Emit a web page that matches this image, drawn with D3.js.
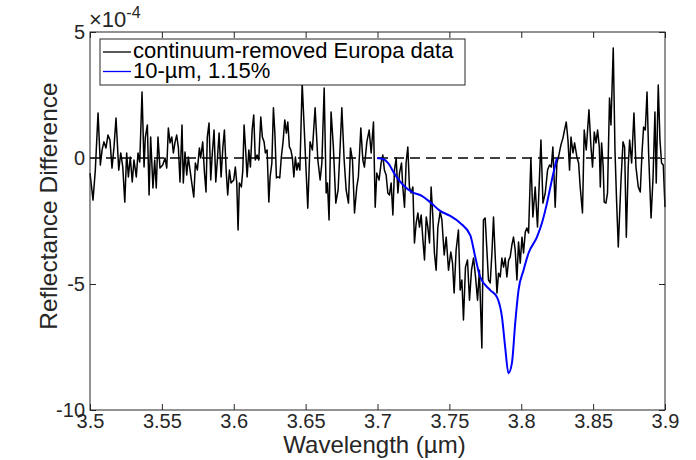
<!DOCTYPE html>
<html>
<head>
<meta charset="utf-8">
<script src="https://cdn.jsdelivr.net/npm/d3@7"></script>
<style>
  body { margin: 0; background: #fff; }
  svg { display: block; font-family: "Liberation Sans", Arial, Helvetica, sans-serif; }
</style>
</head>
<body>
<svg id="chart"></svg>
<script>
// Wavelength (um) of the continuum-removed Europa spectrum
const dataWavelength = [
  3.5000, 3.5021, 3.5037, 3.5056, 3.5072, 3.5084, 3.5097, 3.5111, 3.5125, 3.5139,
  3.5153, 3.5167, 3.5181, 3.5200, 3.5214, 3.5228, 3.5242, 3.5255, 3.5267, 3.5280,
  3.5294, 3.5306, 3.5322, 3.5334, 3.5346, 3.5362, 3.5376, 3.5385, 3.5399, 3.5411,
  3.5422, 3.5438, 3.5450, 3.5461, 3.5473, 3.5487, 3.5506, 3.5522, 3.5534, 3.5545,
  3.5557, 3.5569, 3.5580, 3.5592, 3.5603, 3.5615, 3.5626, 3.5640, 3.5649, 3.5661,
  3.5673, 3.5684, 3.5696, 3.5708, 3.5722, 3.5733, 3.5747, 3.5761, 3.5770, 3.5784,
  3.5796, 3.5807, 3.5816, 3.5828, 3.5840, 3.5851, 3.5863, 3.5875, 3.5886, 3.5898,
  3.5912, 3.5924, 3.5935, 3.5947, 3.5958, 3.5970, 3.5981, 3.6000, 3.6011, 3.6021,
  3.6030, 3.6039, 3.6053, 3.6063, 3.6072, 3.6084, 3.6093, 3.6105, 3.6116, 3.6128,
  3.6139, 3.6150, 3.6162, 3.6174, 3.6188, 3.6199, 3.6211, 3.6220, 3.6232, 3.6244,
  3.6253, 3.6265, 3.6276, 3.6286, 3.6297, 3.6308, 3.6320, 3.6331, 3.6343, 3.6355,
  3.6366, 3.6376, 3.6387, 3.6397, 3.6408, 3.6418, 3.6429, 3.6439, 3.6448, 3.6460,
  3.6476, 3.6515, 3.6531, 3.6547, 3.6566, 3.6585, 3.6601, 3.6613, 3.6629, 3.6643,
  3.6652, 3.6663, 3.6677, 3.6693, 3.6710, 3.6726, 3.6740, 3.6752, 3.6768, 3.6782,
  3.6798, 3.6812, 3.6826, 3.6840, 3.6856, 3.6867, 3.6884, 3.6898, 3.6909, 3.6926,
  3.6942, 3.6956, 3.6972, 3.6984, 3.6995, 3.7011, 3.7025, 3.7037, 3.7048, 3.7060,
  3.7072, 3.7083, 3.7095, 3.7107, 3.7118, 3.7130, 3.7142, 3.7153, 3.7167, 3.7176,
  3.7188, 3.7199, 3.7211, 3.7222, 3.7234, 3.7246, 3.7257, 3.7269, 3.7281, 3.7292,
  3.7304, 3.7316, 3.7327, 3.7339, 3.7350, 3.7362, 3.7373, 3.7385, 3.7396, 3.7408,
  3.7420, 3.7436, 3.7448, 3.7464, 3.7478, 3.7494, 3.7510, 3.7522, 3.7533, 3.7547,
  3.7563, 3.7575, 3.7587, 3.7598, 3.7612, 3.7626, 3.7640, 3.7654, 3.7668, 3.7682,
  3.7696, 3.7709, 3.7726, 3.7737, 3.7749, 3.7761, 3.7772, 3.7784, 3.7796, 3.7807,
  3.7819, 3.7831, 3.7842, 3.7854, 3.7865, 3.7877, 3.7888, 3.7900, 3.7912, 3.7923,
  3.7935, 3.7946, 3.7958, 3.7970, 3.7981, 3.7993, 3.8005, 3.8016, 3.8028, 3.8039,
  3.8051, 3.8067, 3.8081, 3.8097, 3.8113, 3.8137, 3.8151, 3.8167, 3.8183, 3.8197,
  3.8209, 3.8220, 3.8229, 3.8236, 3.8248, 3.8262, 3.8276, 3.8290, 3.8301, 3.8313,
  3.8325, 3.8336, 3.8346, 3.8360, 3.8371, 3.8387, 3.8399, 3.8410, 3.8426, 3.8438,
  3.8452, 3.8471, 3.8485, 3.8496, 3.8508, 3.8520, 3.8531, 3.8543, 3.8550, 3.8559,
  3.8570, 3.8577, 3.8589, 3.8600, 3.8614, 3.8624, 3.8640, 3.8652, 3.8663, 3.8675,
  3.8694, 3.8708, 3.8719, 3.8731, 3.8744, 3.8754, 3.8768, 3.8784, 3.8798, 3.8814,
  3.8828, 3.8840, 3.8851, 3.8863, 3.8875, 3.8886, 3.8903, 3.8917, 3.8930, 3.8939,
  3.8953, 3.8965, 3.8976, 3.8988, 3.9000
];

// Reflectance difference, in units of 1e-4
const dataReflectance = [
  -0.60, -1.67, -0.48, 1.79, -0.28, 0.32, 0.64, 0.40, 0.91, 0.71,
  -0.40, 0.44, 1.59, -0.48, 0.20, -0.36, -1.75, 0.20, -0.75, 0.04,
  -0.95, -0.08, -0.75, 0.20, -0.16, 2.62, -0.36, 0.83, 1.31, -1.47,
  0.83, -1.19, -0.08, -1.19, 0.83, -0.40, -0.28, 0.00, -0.40, 1.19,
  0.60, 0.83, 0.20, 0.64, 0.91, 0.40, -0.95, 1.31, -0.99, 0.24,
  -0.67, 0.04, -0.48, -0.99, -1.55, -0.20, -0.48, 0.40, 0.00, 0.64,
  -0.56, -1.35, 0.83, 1.39, -0.87, 0.20, 1.11, -0.95, -0.08, 0.99,
  -0.75, 0.40, 1.11, -0.48, -1.47, -0.48, -0.99, -0.87, -0.36, -0.99,
  -2.86, -0.99, -1.15, -0.48, 1.31, 0.20, -0.75, 0.32, -0.36, 1.11,
  1.71, -0.08, 0.12, -0.08, 1.63, 0.83, 0.64, 0.20, 0.32, -1.75,
  -0.75, -0.20, 1.99, 0.99, -0.79, -0.75, -0.79, 0.04, 0.64, 1.51,
  0.99, 1.43, 0.44, 0.32, 0.00, -0.75, 0.04, -0.48, -0.20, -0.48,
  2.98, -1.99, 0.64, 0.32, 1.99, -0.08, -0.87, -0.20, 2.78, -1.39,
  -0.99, -2.46, 1.83, 0.44, -1.79, -1.27, 0.44, 1.99, -0.08, -1.27,
  -1.79, 0.40, -0.08, -2.18, -1.15, -0.75, 1.19, -0.08, -0.36, 0.64,
  1.11, 0.20, 1.43, -1.95, -0.60, -0.87, -0.20, 0.12, -0.48, -0.67,
  -1.39, -1.47, -0.99, -2.26, -0.48, 0.00, -1.39, -0.60, -0.20, -1.15,
  -1.95, -0.20, 0.44, -1.15, -1.39, -1.15, -3.37, -2.58, -2.18, -2.74,
  -2.26, -3.26, -4.05, -2.34, -2.74, -3.37, -1.15, -2.34, -3.77, -4.45,
  -2.74, -2.14, -2.46, -3.85, -3.14, -4.45, -3.73, -4.17, -5.36, -3.65,
  -2.86, -5.24, -4.84, -6.43, -4.33, -4.05, -5.64, -4.45, -3.97, -4.72,
  -5.64, -4.45, -7.54, -2.46, -2.38, -3.65, -4.84, -4.96, -3.77, -2.34,
  -3.93, -5.36, -4.57, -4.72, -3.97, -4.33, -3.97, -4.72, -4.05, -3.93,
  -3.45, -3.14, -3.65, -4.84, -3.33, -4.17, -3.14, -3.77, -2.94, -2.78,
  -2.98, 0.00, -2.34, -1.15, -2.74, 0.71, -1.79, -1.39, -0.48, -0.28,
  -0.36, 0.44, -0.87, -1.95, -0.20, 0.12, 0.52, 0.79, 1.11, 1.43,
  0.71, -0.48, 0.83, 0.20, 0.60, 0.04, -0.20, -1.15, -2.18, 1.11,
  0.32, 1.91, 0.44, -0.36, 1.03, 0.60, 1.11, 0.44, -1.15, 0.60,
  -0.36, -1.75, -1.79, -1.39, 2.38, 1.31, 4.37, 0.32, -1.67, -3.53,
  -0.87, 0.64, 0.44, -3.14, -0.36, 0.71, -0.20, 1.79, -0.36, -1.15,
  -1.35, 0.20, 1.23, 1.11, 2.62, 0.20, -2.38, -0.75, 1.83, -0.99,
  2.90, 0.71, -0.20, -0.28, -1.95
];

// 10-um grain model, 1.15%
const modelWavelength = [
  3.6997, 3.7039, 3.7074, 3.7123, 3.7178, 3.7241, 3.7311, 3.7366, 3.7436, 3.7506,
  3.7575, 3.7645, 3.7680, 3.7714, 3.7784, 3.7831, 3.7866, 3.7888, 3.7911, 3.7935,
  3.7958, 3.7981, 3.8016, 3.8051, 3.8109, 3.8144, 3.8179, 3.8213, 3.8248
];
const modelReflectance = [
  0.00, -0.04, -0.20, -0.67, -1.07, -1.35, -1.51, -1.75, -2.10, -2.30,
  -2.58, -3.06, -3.93, -4.72, -5.24, -5.52, -6.31, -7.50, -8.54, -8.14,
  -6.55, -5.24, -4.45, -3.77, -3.14, -2.58, -1.79, -0.87, 0.00
];

const xTicks = [3.5, 3.55, 3.6, 3.65, 3.7, 3.75, 3.8, 3.85, 3.9];
const yTicks = [-10, -5, 0, 5];
const legendLabels = ["continuum-removed Europa data", "10-\u00b5m, 1.15%"];

const width = 696;
const height = 460;
const margin = { top: 32, right: 31, bottom: 50, left: 90 };
const innerWidth = width - margin.left - margin.right;
const innerHeight = height - margin.top - margin.bottom;
const axisColour = "#262626";

const svg = d3.select("#chart").attr("width", width).attr("height", height);

const g = svg.append("g")
  .attr("transform", `translate(${margin.left},${margin.top})`);

const x = d3.scaleLinear().domain([3.5, 3.9]).range([0, innerWidth]);
const y = d3.scaleLinear().domain([-10, 5]).range([innerHeight, 0]);

// Zero reference line
g.append("line")
  .attr("x1", x(3.5)).attr("x2", x(3.9))
  .attr("y1", y(0)).attr("y2", y(0))
  .attr("stroke", "#000")
  .attr("stroke-width", 1.3)
  .attr("stroke-dasharray", "10,6");

// Data line
const europa = dataWavelength.map((w, i) => [w, dataReflectance[i]]);
const model = modelWavelength.map((w, i) => [w, modelReflectance[i]]);

g.append("path")
  .datum(europa)
  .attr("fill", "none")
  .attr("stroke", "#000")
  .attr("stroke-width", 1.5)
  .attr("stroke-linejoin", "round")
  .attr("d", d3.line().x(d => x(d[0])).y(d => y(d[1])));

g.append("path")
  .datum(model)
  .attr("fill", "none")
  .attr("stroke", "#0000ff")
  .attr("stroke-width", 2)
  .attr("d", d3.line().curve(d3.curveMonotoneX).x(d => x(d[0])).y(d => y(d[1])));

// Axes, ticks point inward on all four sides
const tickLen = 6;
const plainFormat = d => String(d);
const xBottom = g.append("g")
  .attr("transform", `translate(0,${innerHeight})`)
  .call(d3.axisBottom(x).tickValues(xTicks).tickSize(-tickLen).tickPadding(4)
    .tickFormat(plainFormat));
const xTop = g.append("g")
  .call(d3.axisTop(x).tickValues(xTicks).tickSize(-tickLen).tickFormat(""));
const yLeft = g.append("g")
  .call(d3.axisLeft(y).tickValues(yTicks).tickSize(-tickLen).tickPadding(5)
    .tickFormat(plainFormat));
const yRight = g.append("g")
  .attr("transform", `translate(${innerWidth},0)`)
  .call(d3.axisRight(y).tickValues(yTicks).tickSize(-tickLen).tickFormat(""));

[xBottom, xTop, yLeft, yRight].forEach(a => {
  a.select(".domain").remove();
  a.selectAll("line").attr("stroke", axisColour);
  a.selectAll("text")
    .attr("fill", axisColour)
    .style("font-size", "20px")
    .style("font-family", "'Liberation Sans', Arial, sans-serif");
});

g.append("rect")
  .attr("width", innerWidth)
  .attr("height", innerHeight)
  .attr("fill", "none")
  .attr("stroke", axisColour)
  .attr("stroke-width", 1);

// Exponent label
const expo = svg.append("text")
  .attr("x", margin.left - 1)
  .attr("y", 27)
  .attr("fill", axisColour)
  .style("font-size", "22px");
expo.append("tspan").text("\u00d710");
expo.append("tspan").attr("dy", -9).style("font-size", "16px").text("-4");

// Axis titles
svg.append("text")
  .attr("x", margin.left + innerWidth / 2 - 3)
  .attr("y", 453)
  .attr("text-anchor", "middle")
  .attr("fill", axisColour)
  .style("font-size", "24px")
  .text("Wavelength (\u00b5m)");

svg.append("text")
  .attr("transform", "translate(57,206) rotate(-90)")
  .attr("text-anchor", "middle")
  .attr("fill", axisColour)
  .style("font-size", "24.5px")
  .text("Reflectance Difference");

// Legend
const legend = svg.append("g").attr("transform", "translate(100,39)");
legend.append("rect")
  .attr("width", 365)
  .attr("height", 46)
  .attr("fill", "#fff")
  .attr("stroke", axisColour)
  .attr("stroke-width", 1);

const legendColours = ["#000", "#0000ff"];
legendLabels.forEach((label, i) => {
  const ly = 13 + i * 19.5;
  legend.append("line")
    .attr("x1", 3).attr("x2", 31)
    .attr("y1", ly).attr("y2", ly)
    .attr("stroke", legendColours[i])
    .attr("stroke-width", 1.3);
  legend.append("text")
    .attr("x", 33)
    .attr("y", ly + 6)
    .attr("fill", "#000")
    .style("font-size", "22px")
    .text(label);
});
</script>
</body>
</html>
